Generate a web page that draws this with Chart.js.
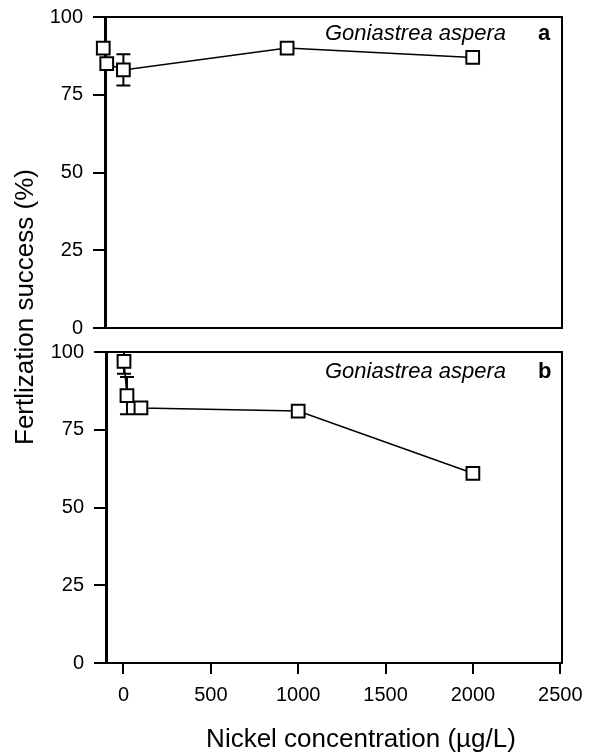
<!DOCTYPE html>
<html>
<head>
<meta charset="utf-8">
<script src="https://cdn.jsdelivr.net/npm/chart.js@4"></script>
<style>
  body { margin: 0; background: #fff; }
  #wrap { position: relative; width: 590px; height: 756px; }
  #topChart { position: absolute; left: 0; top: 0; }
  #bottomChart { position: absolute; left: 0; top: 340px; }
  .axisTitle {
    position: absolute; width: 400px; text-align: center;
    font: 26px 'Liberation Sans', Arial, sans-serif;
    line-height: 32px; white-space: nowrap;
  }
  #yTitle { left: -176px; top: 291px; transform: rotate(-90deg); }
  #xTitle { left: 161px; top: 722px; }
</style>
</head>
<body>
<div id="wrap">
  <canvas id="topChart" width="590" height="340"></canvas>
  <canvas id="bottomChart" width="590" height="416"></canvas>
  <div id="yTitle" class="axisTitle">Fertlization success (%)</div>
  <div id="xTitle" class="axisTitle"></div>
</div>
<script>
// panel a
var topX = [-110, -90, 5, 940, 2000];
var topY = [90, 85, 83, 90, 87];
var topErr = [0, 0, 5, 0, 0];
// panel b
var bottomX = [3, 20, 100, 1000, 2000];
var bottomY = [97, 86, 82, 81, 61];
var bottomErr = [4, 6, 0, 0, 0];

var xTicks = [0, 500, 1000, 1500, 2000, 2500];
var yTicks = [0, 25, 50, 75, 100];
var species = 'Goniastrea aspera';
var xTitle = 'Nickel concentration (µg/L)';

document.getElementById('xTitle').textContent = xTitle;

Chart.defaults.font.family = "'Liberation Sans', Arial, sans-serif";
Chart.defaults.color = '#000';

function toPoints(xs, ys) {
  return xs.map(function (x, i) { return { x: x, y: ys[i] }; });
}

// box round the plot, drawn on top/right (and bottom when asked)
var framePlugin = {
  id: 'frame',
  afterDraw: function (chart, args, opts) {
    var a = chart.chartArea, ctx = chart.ctx;
    ctx.save();
    ctx.strokeStyle = '#000';
    ctx.lineWidth = 2;
    ctx.beginPath();
    ctx.moveTo(a.left, a.top);
    ctx.lineTo(a.right, a.top);
    ctx.lineTo(a.right, a.bottom);
    if (opts.bottom) ctx.lineTo(a.left, a.bottom);
    ctx.stroke();
    ctx.restore();
  }
};

var errorBarPlugin = {
  id: 'errorBars',
  beforeDatasetsDraw: function (chart, args, opts) {
    var ctx = chart.ctx, xs = chart.scales.x, ys = chart.scales.y, a = chart.chartArea;
    var pts = chart.data.datasets[0].data;
    ctx.save();
    ctx.beginPath();
    ctx.rect(a.left - 20, a.top, a.right - a.left + 20, a.bottom - a.top);
    ctx.clip();
    ctx.strokeStyle = '#000';
    ctx.lineWidth = 2;
    pts.forEach(function (p, i) {
      var e = opts.err[i];
      if (!e) return;
      var px = xs.getPixelForValue(p.x);
      var y1 = ys.getPixelForValue(p.y + e), y2 = ys.getPixelForValue(p.y - e);
      ctx.beginPath();
      ctx.moveTo(px, y1); ctx.lineTo(px, y2);
      ctx.moveTo(px - 7, y1); ctx.lineTo(px + 7, y1);
      ctx.moveTo(px - 7, y2); ctx.lineTo(px + 7, y2);
      ctx.stroke();
    });
    ctx.restore();
  }
};

var labelPlugin = {
  id: 'panelLabel',
  afterDraw: function (chart, args, opts) {
    var a = chart.chartArea, ctx = chart.ctx;
    ctx.save();
    ctx.fillStyle = '#000';
    ctx.textBaseline = 'alphabetic';
    ctx.textAlign = 'right';
    ctx.font = "italic 22px 'Liberation Sans', Arial, sans-serif";
    ctx.fillText(opts.text, a.right - 56, a.top + opts.baseline);
    ctx.textAlign = 'left';
    ctx.font = "bold 22px 'Liberation Sans', Arial, sans-serif";
    ctx.fillText(opts.letter, a.right - 24, a.top + opts.baseline);
    ctx.restore();
  }
};

function plainTick(v) { return String(v); }

function yScale(width) {
  return {
    min: 0, max: 100,
    afterBuildTicks: function (s) { s.ticks = yTicks.map(function (v) { return { value: v }; }); },
    afterFit: function (s) { s.width = width; s.paddingTop = 0; s.paddingBottom = 0; },
    ticks: { font: { size: 20 }, padding: 10, color: '#000', callback: plainTick },
    grid: { drawOnChartArea: false, drawTicks: true, tickLength: 12, color: '#000', lineWidth: 2 },
    border: { display: true, color: '#000', width: 3 }
  };
}

function dataset(xs, ys) {
  return {
    data: toPoints(xs, ys),
    borderColor: '#000',
    borderWidth: 1.5,
    pointStyle: 'rect',
    pointRadius: 9,
    pointBorderWidth: 2,
    pointBackgroundColor: '#fff',
    pointBorderColor: '#000',
    tension: 0,
    clip: false
  };
}

new Chart(document.getElementById('topChart'), {
  type: 'line',
  data: { datasets: [dataset(topX, topY)] },
  options: {
    responsive: false, animation: false, devicePixelRatio: 1,
    layout: { padding: { top: 17, right: 28, bottom: 12, left: 0 } },
    scales: {
      x: { type: 'linear', min: -100, max: 2510, display: false },
      y: yScale(105)
    },
    plugins: {
      legend: { display: false }, tooltip: { enabled: false },
      frame: { bottom: true },
      errorBars: { err: topErr },
      panelLabel: { text: species, letter: 'a', baseline: 23 }
    }
  },
  plugins: [framePlugin, errorBarPlugin, labelPlugin]
});

new Chart(document.getElementById('bottomChart'), {
  type: 'line',
  data: { datasets: [dataset(bottomX, bottomY)] },
  options: {
    responsive: false, animation: false, devicePixelRatio: 1,
    layout: { padding: { top: 12, right: 28, bottom: 0, left: 0 } },
    scales: {
      x: {
        type: 'linear', min: -100, max: 2510,
        afterBuildTicks: function (s) { s.ticks = xTicks.map(function (v) { return { value: v }; }); },
        afterFit: function (s) { s.height = 93; s.paddingLeft = 0; s.paddingRight = 0; },
        ticks: { font: { size: 20 }, padding: 9, color: '#000', maxRotation: 0, callback: plainTick },
        grid: { drawOnChartArea: false, drawTicks: true, tickLength: 11, color: '#000', lineWidth: 2 },
        border: { display: true, color: '#000', width: 2 }
      },
      y: yScale(106)
    },
    plugins: {
      legend: { display: false }, tooltip: { enabled: false },
      frame: { bottom: false },
      errorBars: { err: bottomErr },
      panelLabel: { text: species, letter: 'b', baseline: 26 }
    }
  },
  plugins: [framePlugin, errorBarPlugin, labelPlugin]
});
</script>
</body>
</html>
